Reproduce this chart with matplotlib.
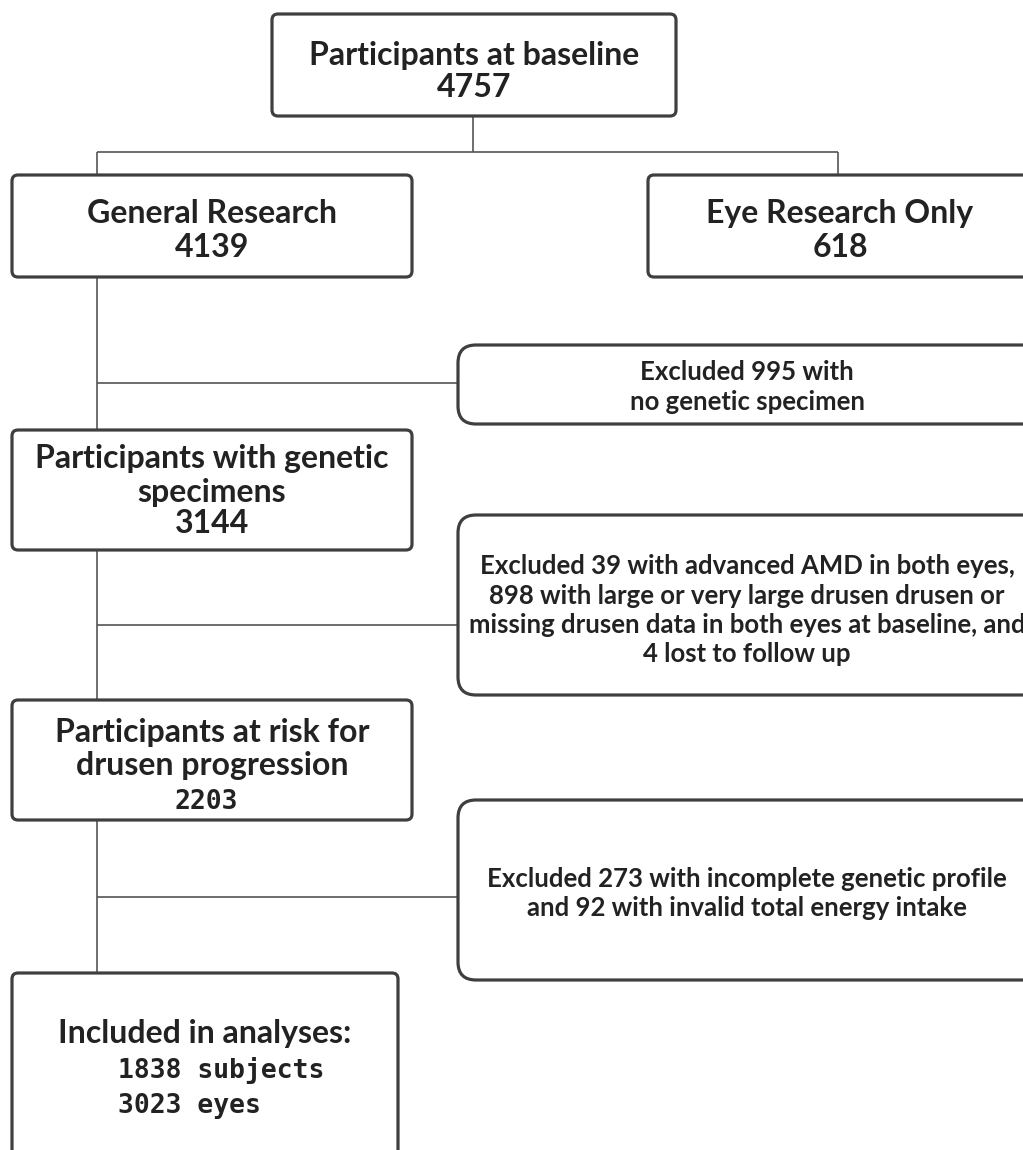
import matplotlib.pyplot as plt
from matplotlib.patches import FancyBboxPatch

# box texts and counts
top_title = ["Participants at baseline"]
top_count = "4757"
branch_titles = ["General Research", "Eye Research Only"]
branch_counts = ["4139", "618"]
step_titles = [["Participants with genetic", "specimens"],
               ["Participants at risk for", "drusen progression"]]
step_counts = ["3144", "2203"]
excluded_texts = [
    ["Excluded 995 with", "no genetic specimen"],
    ["Excluded 39 with advanced AMD in both eyes,",
     "898 with large or very large drusen drusen or",
     "missing drusen data in both eyes at baseline, and",
     "4 lost to follow up"],
    ["Excluded 273 with incomplete genetic profile",
     "and 92 with invalid total energy intake"],
]
final_title = "Included in analyses:"
final_lines = ["1838 subjects", "3023 eyes"]

EDGE = "#3f3f3f"
LINE = "#555555"
TXT = "#222222"
SANS = ["Lato", "DejaVu Sans"]
MONO = "DejaVu Sans Mono"

fig = plt.figure(figsize=(10.23, 11.5), dpi=100)
ax = fig.add_axes([0, 0, 1, 1])
ax.set_xlim(0, 1023)
ax.set_ylim(1150, 0)
ax.axis("off")


def box(x0, y0, x1, y1, r=6):
    p = FancyBboxPatch((x0, y0), x1 - x0, y1 - y0,
                       boxstyle="round,pad=0,rounding_size=%d" % r,
                       fc="white", ec=EDGE, lw=2.3, zorder=2)
    ax.add_patch(p)


def line(xs, ys):
    ax.plot(xs, ys, color=LINE, lw=1.2, zorder=1, solid_capstyle="butt")


def text(x, y, s, size=23, family=SANS, ha="center"):
    ax.text(x, y, s, ha=ha, va="baseline", fontsize=size, color=TXT,
            family=family, fontweight="bold", zorder=3)


def lines(x, y0, step, rows, **kw):
    for i, s in enumerate(rows):
        text(x, y0 + step * i, s, **kw)


# connectors
line([473, 473], [116, 152])
line([97, 838], [152, 152])
line([97, 97], [152, 175])
line([838, 838], [152, 175])
line([97, 97], [277, 975])
for y in [383, 625, 897]:
    line([97, 458], [y, y])

# top box
box(272, 14, 676, 116)
lines(474, 65, 32, top_title)
text(474, 97, top_count)

# branch boxes
for (x0, x1), t, c in zip([(12, 412), (648, 1040)], branch_titles, branch_counts):
    box(x0, 175, x1, 277)
    cx = (x0 + min(x1, 1032)) / 2
    text(cx, 223, t)
    text(cx, 257, c)

# step boxes
box(12, 430, 412, 550)
lines(212, 468, 34, step_titles[0])
text(212, 533, step_counts[0])
box(12, 700, 412, 820)
lines(212, 742, 33, step_titles[1])
text(206, 809, step_counts[1], family=MONO, size=19)

# exclusion boxes
excl_y = [(345, 424), (515, 695), (800, 980)]
excl_base = [380, 574, 887]
for (y0, y1), b, rows in zip(excl_y, excl_base, excluded_texts):
    box(458, y0, 1040, y1, r=18)
    lines(747, b, 29.5, rows, size=18.5)

# final box
box(12, 973, 398, 1170)
text(205, 1043, final_title)
lines(118, 1078, 35, final_lines, family=MONO, size=19, ha="left")

fig.savefig("out.png", dpi=100)
